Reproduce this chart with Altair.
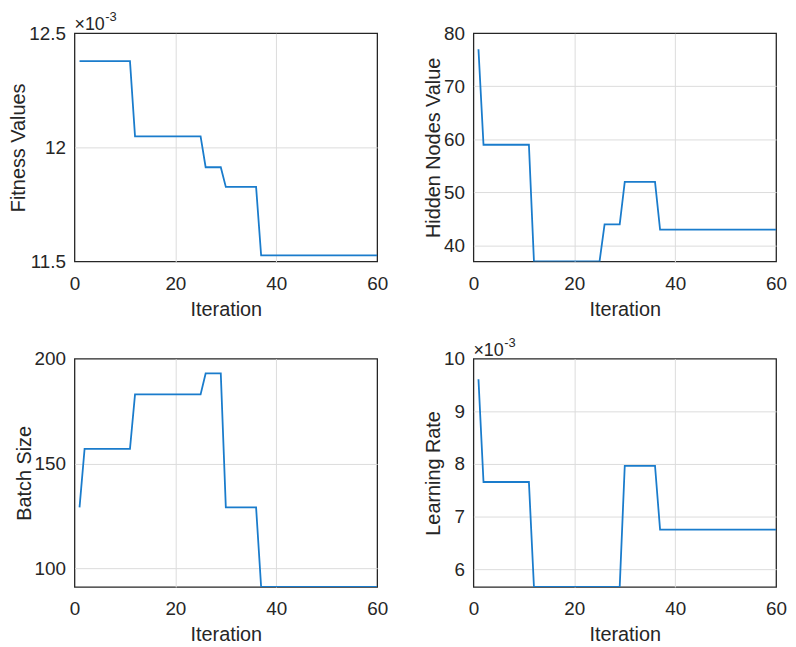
import altair as alt
import pandas as pd

# ---------------- data ----------------
iterations = list(range(1, 61))

fitness = [
    0.012378, 0.012378, 0.012378, 0.012378, 0.012378, 0.012378, 0.012378, 0.012378, 0.012378, 0.012378,
    0.012378, 0.012048, 0.012048, 0.012048, 0.012048, 0.012048, 0.012048, 0.012048, 0.012048, 0.012048,
    0.012048, 0.012048, 0.012048, 0.012048, 0.012048, 0.011913, 0.011913, 0.011913, 0.011913, 0.011827,
    0.011827, 0.011827, 0.011827, 0.011827, 0.011827, 0.011827, 0.011527, 0.011527, 0.011527, 0.011527,
    0.011527, 0.011527, 0.011527, 0.011527, 0.011527, 0.011527, 0.011527, 0.011527, 0.011527, 0.011527,
    0.011527, 0.011527, 0.011527, 0.011527, 0.011527, 0.011527, 0.011527, 0.011527, 0.011527, 0.011527,
]

hidden_nodes = [
    77, 59, 59, 59, 59, 59, 59, 59, 59, 59,
    59, 37, 37, 37, 37, 37, 37, 37, 37, 37,
    37, 37, 37, 37, 37, 44, 44, 44, 44, 52,
    52, 52, 52, 52, 52, 52, 43, 43, 43, 43,
    43, 43, 43, 43, 43, 43, 43, 43, 43, 43,
    43, 43, 43, 43, 43, 43, 43, 43, 43, 43,
]

batch_size = [
    129, 157, 157, 157, 157, 157, 157, 157, 157, 157,
    157, 183, 183, 183, 183, 183, 183, 183, 183, 183,
    183, 183, 183, 183, 183, 193, 193, 193, 193, 129,
    129, 129, 129, 129, 129, 129, 91, 91, 91, 91,
    91, 91, 91, 91, 91, 91, 91, 91, 91, 91,
    91, 91, 91, 91, 91, 91, 91, 91, 91, 91,
]

learning_rate = [
    0.00961, 0.007657, 0.007657, 0.007657, 0.007657, 0.007657, 0.007657, 0.007657, 0.007657, 0.007657,
    0.007657, 0.00566, 0.00566, 0.00566, 0.00566, 0.00566, 0.00566, 0.00566, 0.00566, 0.00566,
    0.00566, 0.00566, 0.00566, 0.00566, 0.00566, 0.00566, 0.00566, 0.00566, 0.00566, 0.007965,
    0.007965, 0.007965, 0.007965, 0.007965, 0.007965, 0.007965, 0.00675, 0.00675, 0.00675, 0.00675,
    0.00675, 0.00675, 0.00675, 0.00675, 0.00675, 0.00675, 0.00675, 0.00675, 0.00675, 0.00675,
    0.00675, 0.00675, 0.00675, 0.00675, 0.00675, 0.00675, 0.00675, 0.00675, 0.00675, 0.00675,
]

x_domain = [0, 60]
x_ticks = [0, 20, 40, 60]
fitness_ticks = [0.0115, 0.012, 0.0125]
hidden_ticks = [40, 50, 60, 70, 80]
batch_ticks = [100, 150, 200]
lr_ticks = [0.006, 0.007, 0.008, 0.009, 0.010]

exp_base = ["\u00d710"]
exp_power = ["-3"]

# ---------------- style ----------------
BLUE = "#1a7ccc"
TXT = "#262626"
FONT = "Liberation Sans"
W, H = 305, 230


def edge_test(lo, hi):
    eps = (hi - lo) * 1e-6
    return f"abs(datum.value - ({lo})) < {eps} || abs(datum.value - ({hi})) < {eps}"


def panel(values, ytitle, domain, yticks, scaled):
    df = pd.DataFrame({"Iteration": iterations, "value": values})
    label_expr = "format(datum.value*1000, '.3~g')" if scaled else "format(datum.value, '~g')"
    line = alt.Chart(df).mark_line(color=BLUE, strokeWidth=1.8, clip=True).encode(
        x=alt.X(
            "Iteration:Q",
            scale=alt.Scale(domain=x_domain, nice=False, zero=False),
            axis=alt.Axis(
                values=x_ticks, title="Iteration", format="d",
                gridOpacity={"condition": {"test": edge_test(x_domain[0], x_domain[1]), "value": 0}, "value": 1},
            ),
        ),
        y=alt.Y(
            "value:Q",
            scale=alt.Scale(domain=domain, nice=False, zero=False),
            axis=alt.Axis(
                values=yticks, title=ytitle, labelExpr=label_expr,
                gridOpacity={"condition": {"test": edge_test(domain[0], domain[1]), "value": 0}, "value": 1},
            ),
        ),
    )
    layers = [line]
    if scaled:
        base = alt.Chart(pd.DataFrame({"t": exp_base})).mark_text(
            align="left", baseline="alphabetic", font=FONT, fontSize=18, color=TXT
        ).encode(x=alt.value(0), y=alt.value(-3), text="t:N")
        power = alt.Chart(pd.DataFrame({"t": exp_power})).mark_text(
            align="left", baseline="alphabetic", font=FONT, fontSize=13, color=TXT
        ).encode(x=alt.value(31), y=alt.value(-12), text="t:N")
        layers += [base, power]
    return alt.layer(*layers).properties(width=W, height=H)


p1 = panel(fitness, "Fitness Values", [0.0115, 0.0125], fitness_ticks, True)
p2 = panel(hidden_nodes, "Hidden Nodes Value", [37, 80], hidden_ticks, False)
p3 = panel(batch_size, "Batch Size", [91, 200], batch_ticks, False)
p4 = panel(learning_rate, "Learning Rate", [0.00566, 0.010], lr_ticks, True)

chart = alt.concat(p1, p2, p3, p4, columns=2, spacing={"row": 16, "column": 34}).properties(
    padding={"left": 0, "top": 0, "right": 0, "bottom": 0},
    background="white",
).configure_view(
    stroke=TXT, strokeWidth=1.3, fill="white"
).configure_axis(
    labelFont=FONT, titleFont=FONT, labelFontSize=19, titleFontSize=20,
    labelColor=TXT, titleColor=TXT, titleFontWeight="normal",
    ticks=False, domain=False, grid=True, gridColor="#dcdcdc", gridWidth=1,
    labelFlush=False, labelOverlap=False,
).configure_axisX(
    labelPadding=13, titlePadding=6,
).configure_axisY(
    labelPadding=9, titlePadding=0,
)

chart.save("out.html", embed_options={"renderer": "svg", "actions": False})
